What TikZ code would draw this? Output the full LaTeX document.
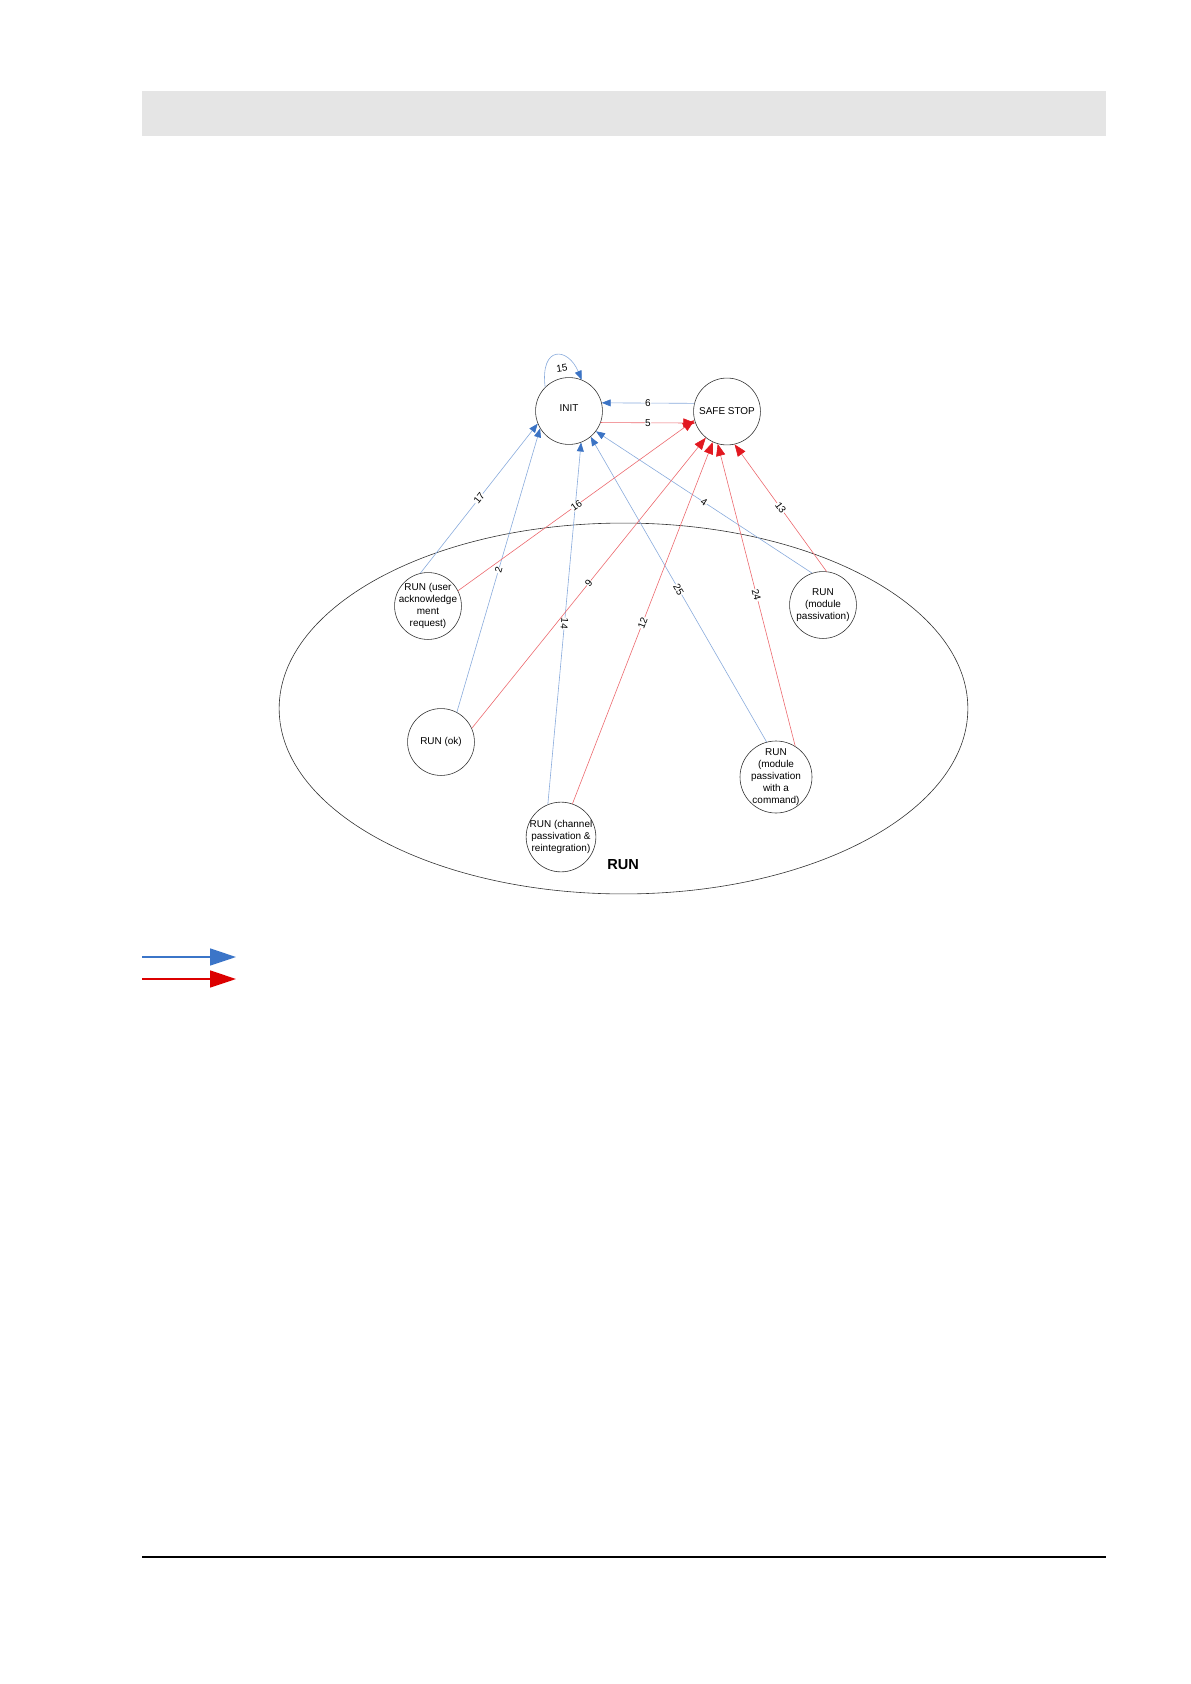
\documentclass[tikz,border=0pt]{standalone}
\usepackage{fontspec}
\setmainfont{Liberation Sans}
\usetikzlibrary{arrows.meta}
\definecolor{stblue}{RGB}{59,115,196}
\definecolor{stred}{RGB}{226,24,32}
\definecolor{lgblue}{RGB}{59,117,200}
\definecolor{lgred}{RGB}{220,0,0}

\begin{document}
\begin{tikzpicture}[x=0.017632cm, y=-0.017632cm,
    state/.style={draw=black!80, line width=0.3pt, circle, minimum size=1.18cm, inner sep=-4pt, align=center, font=\fontsize{5}{6}\selectfont},
    toinit/.style={draw=stblue!60, line width=0.3pt, -{Triangle[length=4.5pt, width=3.5pt, color=stblue]}},
    tosafe/.style={draw=stred!65, line width=0.3pt, -{Triangle[length=6pt, width=4.6pt, color=stred]}},
    num/.style={font=\fontsize{5}{6}\selectfont, fill=white, inner sep=0.2pt, sloped}
  ]
    \useasboundingbox (0,0) rectangle (1191,1684);
    % --- page frame ---
    \fill[black!10] (142,91) rectangle (1106,136);
    \draw[line width=0.8pt] (142,1557) -- (1106,1557);

    % --- RUN super state ---
    \draw[black!80, line width=0.3pt] (623.5,708.5) ellipse [x radius=6.074cm, y radius=3.271cm];
    \node[font=\bfseries\fontsize{7.3}{8}\selectfont] (runlbl) at (623,865) {RUN};

    % States
    \node[state] (init) at (569,411) {\raisebox{3pt}{INIT}};
    \node[state] (safe) at (727,411.5) {SAFE STOP};
    \node[state] (ack) at (428,606) {RUN (user\\acknowledge\\ment\\request)};
    \node[state] (modp) at (823,605) {RUN\\(module\\passivation)};
    \node[state] (runok) at (441,742) {RUN (ok)};
    \node[state, minimum size=1.27cm] (modcmd) at (776,777) {RUN\\(module\\passivation\\with a\\command)};
    \node[state, minimum size=1.23cm] (chan) at (561,837) {RUN (channel\\passivation \&\\reintegration)};

    % --- transitions to INIT (blue) ---
    \draw[toinit] (init.135) .. controls (540,345) and (568,347) .. (init.68);
    \node[font=\fontsize{5}{6}\selectfont, rotate=8] (n15) at (562,368) {15};
    \draw[toinit] (safe.166) -- node[num]{6} (init.14);
    \draw[toinit] (ack.103) -- node[num]{17} (init.202);
    \draw[toinit] (runok.62) -- node[num]{2} (init.211);
    \draw[toinit] (chan.112) -- node[num, rotate=180]{14} (init.291);
    \draw[toinit] (modcmd.105) -- node[num]{25} (init.310);
    \draw[toinit] (modp.109) -- node[num]{4} (init.323);

    % --- transitions to SAFE STOP (red) ---
    \draw[tosafe] (init.-20) -- node[num]{5} (safe.200);
    \draw[tosafe] (ack.27) -- node[num]{16} (safe.195);
    \draw[tosafe] (runok.24) -- node[num]{9} (safe.231);
    \draw[tosafe] (chan.71) -- node[num]{12} (safe.245);
    \draw[tosafe] (modcmd.58) -- node[num]{24} (safe.254);
    \draw[tosafe] (modp.84) -- node[num]{13} (safe.283);

    % --- legend ---
    \coordinate (lgb0) at (142,957);
    \coordinate (lgb1) at (236,957);
    \coordinate (lgr0) at (142,979);
    \coordinate (lgr1) at (236,979);
    \draw[lgblue, line width=0.8pt, -{Triangle[length=13pt, width=8.5pt]}] (lgb0) -- (lgb1);
    \draw[lgred, line width=0.8pt, -{Triangle[length=13pt, width=8.5pt]}] (lgr0) -- (lgr1);
  \end{tikzpicture}
\end{document}
